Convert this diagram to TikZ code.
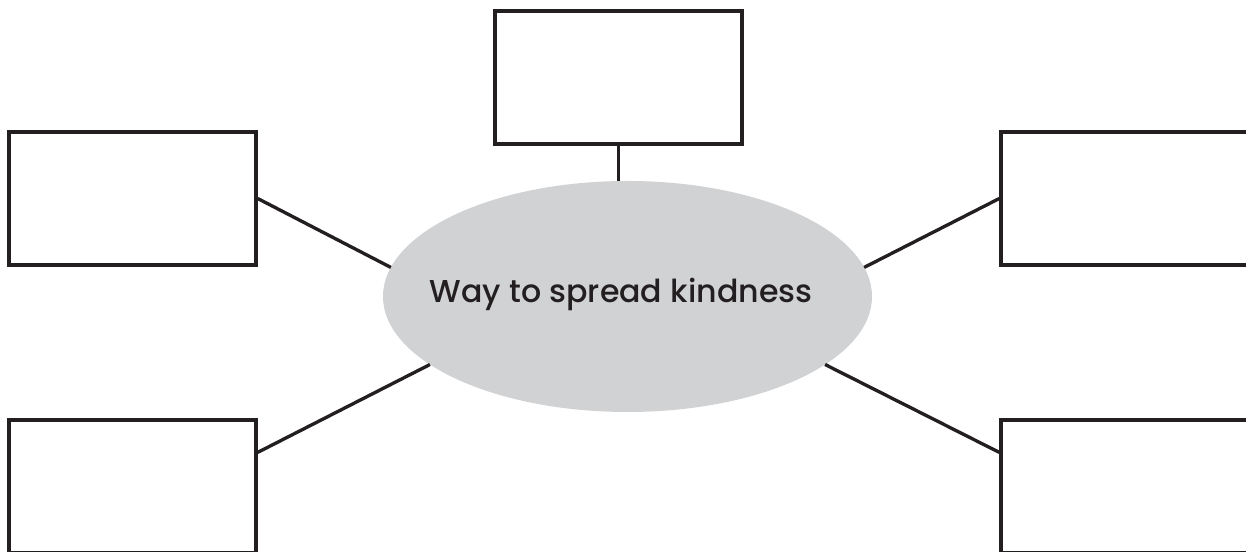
\documentclass[tikz,border=0pt]{standalone}
\usepackage{fontspec}
\setmainfont{Poppins}
\newfontfamily\midfont{Poppins Medium}
\usetikzlibrary{calc,shapes.geometric}
\definecolor{ink}{HTML}{231F20}
\definecolor{blob}{HTML}{D1D2D4}
\begin{document}
\begin{tikzpicture}[font=\fontsize{18}{22}\selectfont]
\tikzstyle{b}=[draw=ink,line width=1.9pt,minimum width=4.94cm,minimum height=2.66cm,inner sep=0pt]
\tikzstyle{c}=[draw=ink,line width=1.9pt]
\useasboundingbox (0,0) rectangle (24.92,11.04);
\clip (0,0) rectangle (24.92,11.04);
\node[ellipse,fill=blob,minimum width=9.78cm,minimum height=4.62cm,inner sep=0pt,outer sep=0pt] (kind) at (12.55,5.11) {};
\node[text=ink,anchor=base,inner sep=0pt,font=\midfont\fontsize{18}{22}\selectfont] (title) at (12.42,4.98) {Way to spread kindness};
\foreach \n/\x/\y in {top/12.37/9.49,lu/2.65/7.07,ru/22.49/7.07,ll/2.65/1.31,rl/22.49/1.31} { \node[b] (\n) at (\x,\y) {}; }
\draw[c] (top.south) -- (top.south |- kind.north);
\draw[c] (lu.east) -- (kind.173); \draw[c] (ru.west) -- (kind.7);
\draw[c] ($(ll.north east)!0.25!(ll.south east)$) -- (kind.199); \draw[c] ($(rl.north west)!0.25!(rl.south west)$) -- (kind.341);
\end{tikzpicture}
\end{document}
